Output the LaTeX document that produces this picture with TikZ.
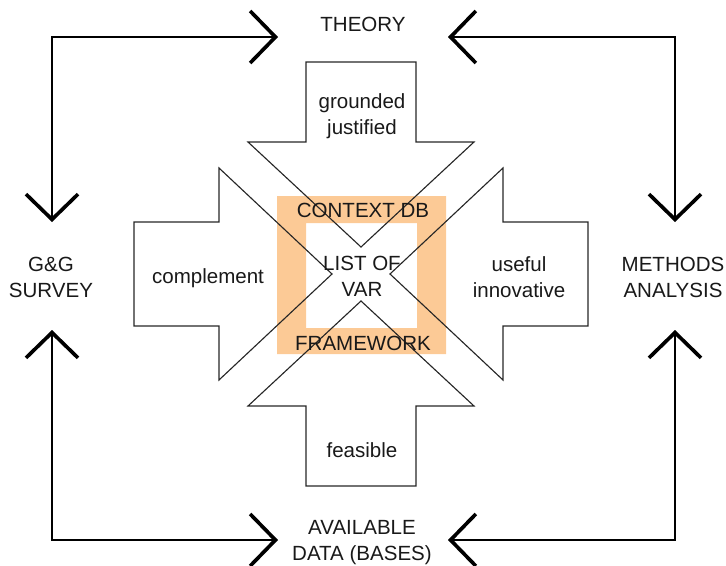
\documentclass[tikz,border=0pt]{standalone}
\usepackage{fontspec}
\setmainfont{Liberation Sans}
\usetikzlibrary{arrows.meta}
\definecolor{ctxorange}{RGB}{252,202,150}

\begin{document}
\begin{tikzpicture}[x=0.025cm,y=-0.025cm,
    lbl/.style={align=center,inner sep=0pt,text=black!90,font=\fontsize{14.6}{18.5}\selectfont},
    blockarrow/.style={draw=black!85,line width=0.8pt,line join=miter},
    chev/.tip={Straight Barb[length=18pt,width=37pt,line width=2.6pt]},
    link/.style={line width=1.4pt,chev-chev}]
\useasboundingbox (0,0) rectangle (726,566);
% orange frame
\fill[ctxorange,even odd rule] (277,196) rectangle (446,354) (306,223) rectangle (417,328);
% block arrows pointing to the middle
\draw[blockarrow] (306,62)--(416,62)--(416,142)--(474,142)--(361,247)--(248,142)--(306,142)--cycle;
\draw[blockarrow] (306,486)--(416,486)--(416,406)--(474,406)--(361,301)--(248,406)--(306,406)--cycle;
\draw[blockarrow] (134,222)--(219,222)--(219,168)--(332,274)--(219,380)--(219,326)--(134,326)--cycle;
\draw[blockarrow] (588,222)--(503,222)--(503,168)--(390,274)--(503,380)--(503,326)--(588,326)--cycle;

\node[lbl] (theory) at (363,24) {THEORY};
\node[lbl] (data) at (362,543) {AVAILABLE\\DATA (BASES)};
\node[lbl] (gg) at (51,277) {G\&G\\SURVEY};
\node[lbl] (meth) at (673,277) {METHODS\\ANALYSIS};

\node[lbl] (grounded) at (362,116) {grounded\\justified};
\node[lbl] (complement) at (208,278) {complement};
\node[lbl] (useful) at (519,277) {useful\\innovative};
\node[lbl] (feasible) at (362,450) {feasible};

\node[lbl] (context) at (363,210) {CONTEXT DB};
\node[lbl] (listvar) at (362,276) {LIST OF\\VAR};
\node[lbl] (framework) at (363,343) {FRAMEWORK};

% ends of the corner links
\coordinate (theory-l) at (278,37);
\coordinate (theory-r) at (448,37);
\coordinate (data-l) at (278,540);
\coordinate (data-r) at (448,540);
\coordinate (gg-up) at (52,222);
\coordinate (gg-dn) at (52,330);
\coordinate (meth-up) at (675,222);
\coordinate (meth-dn) at (675,330);

\draw[link] (gg-up) |- (theory-l);
\draw[link] (meth-up) |- (theory-r);
\draw[link] (gg-dn) |- (data-l);
\draw[link] (meth-dn) |- (data-r);
\end{tikzpicture}
\end{document}
